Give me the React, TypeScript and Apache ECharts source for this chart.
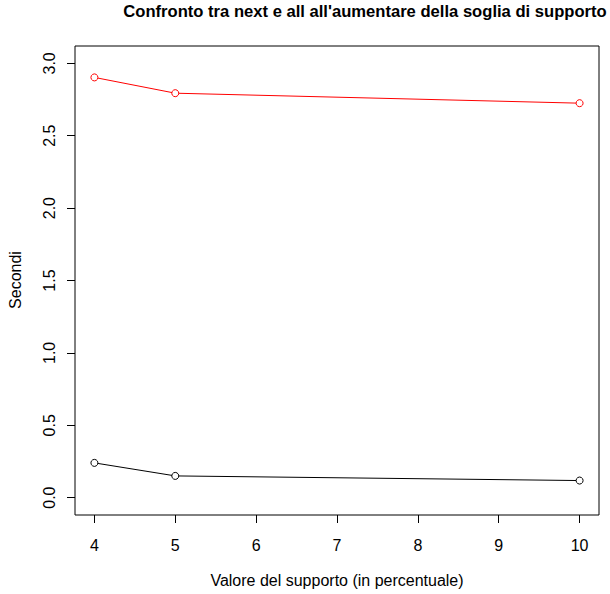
import React, { useEffect, useRef } from "react";
import * as echarts from "echarts";

const supportValues = [4, 5, 10];
const allSeconds = [2.903, 2.794, 2.725];
const nextSeconds = [0.24, 0.15, 0.118];
const xTicks = [4, 5, 6, 7, 8, 9, 10];
const yTicks = [0, 0.5, 1, 1.5, 2, 2.5, 3];

const titleText = "Confronto tra next e all all'aumentare della soglia di supporto";
const xName = "Valore del supporto (in percentuale)";
const yName = "Secondi";

const FONT = "'Liberation Sans', Arial, Helvetica, sans-serif";

export default function App() {
  const ref = useRef<HTMLDivElement>(null);
  useEffect(() => {
    document.body.style.margin = "0";
    const chart = echarts.init(ref.current!, null, { renderer: "svg" });
    const toPairs = (ys: number[]) => supportValues.map((x, i) => [x, ys[i]]);
    chart.setOption({
      animation: false,
      backgroundColor: "#ffffff",
      textStyle: { fontFamily: FONT },
      grid: {
        left: 75,
        top: 46,
        right: 11,
        bottom: 79,
        show: true,
        borderColor: "#000000",
        borderWidth: 1,
        backgroundColor: "transparent",
      },
      xAxis: {
        type: "value",
        min: 3.76,
        max: 10.24,
        axisLine: { show: false, onZero: false },
        splitLine: { show: false },
        axisTick: {
          show: true,
          length: 8,
          lineStyle: { color: "#000000", width: 1 },
          customValues: xTicks,
        },
        axisLabel: {
          customValues: xTicks,
          margin: 22,
          fontSize: 16,
          color: "#000000",
          fontFamily: FONT,
          formatter: (v: number) => String(v),
        },
      },
      yAxis: {
        type: "value",
        min: -0.12,
        max: 3.12,
        axisLine: { show: false, onZero: false },
        splitLine: { show: false },
        axisTick: {
          show: true,
          length: 8,
          lineStyle: { color: "#000000", width: 1 },
          customValues: yTicks,
        },
        axisLabel: {
          customValues: yTicks,
          rotate: 90,
          margin: 18,
          fontSize: 16,
          color: "#000000",
          fontFamily: FONT,
          formatter: (v: number) => v.toFixed(1),
        },
      },
      series: [
        {
          name: "all",
          type: "line",
          data: toPairs(allSeconds),
          symbol: "circle",
          symbolSize: 7,
          lineStyle: { color: "#ff0000", width: 1 },
          itemStyle: { color: "#ffffff", borderColor: "#ff0000", borderWidth: 1 },
        },
        {
          name: "next",
          type: "line",
          data: toPairs(nextSeconds),
          symbol: "circle",
          symbolSize: 7,
          lineStyle: { color: "#000000", width: 1 },
          itemStyle: { color: "#ffffff", borderColor: "#000000", borderWidth: 1 },
        },
      ],
      graphic: [
        {
          type: "text",
          x: 365,
          y: 11,
          style: {
            text: titleText,
            fontFamily: FONT,
            fontWeight: "bold",
            fontSize: 16.6,
            fill: "#000000",
            align: "center",
            verticalAlign: "middle",
          },
        },
        {
          type: "text",
          x: 337,
          y: 580,
          style: {
            text: xName,
            fontFamily: FONT,
            fontSize: 16,
            fill: "#000000",
            align: "center",
            verticalAlign: "middle",
          },
        },
        {
          type: "text",
          x: 15,
          y: 280,
          rotation: Math.PI / 2,
          style: {
            text: yName,
            fontFamily: FONT,
            fontSize: 16,
            fill: "#000000",
            align: "center",
            verticalAlign: "middle",
          },
        },
      ],
    });
    return () => chart.dispose();
  }, []);
  return <div ref={ref} style={{ width: 610, height: 594 }} />;
}
